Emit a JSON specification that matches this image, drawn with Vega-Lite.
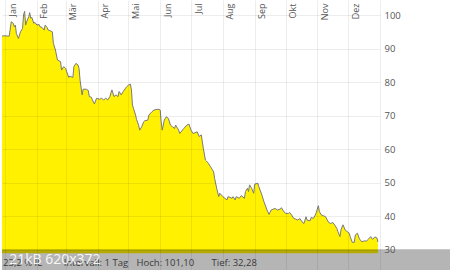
{
  "$schema": "https://vega.github.io/schema/vega-lite/v6.json",
  "width": 378,
  "height": 270,
  "padding": 0,
  "autosize": {"type": "pad"},
  "background": "white",
  "config": {"view": {"stroke": null}, "font": "Open Sans"},
  "resolve": {"axis": {"x": "independent", "y": "independent"}},
  "data": {"values": [
    {"d":"2021-12-29","v":93.7},{"d":"2021-12-31","v":93.8},{"d":"2022-01-05","v":93.7},{"d":"2022-01-07","v":98.0},
    {"d":"2022-01-09","v":97.5},{"d":"2022-01-10","v":96.5},{"d":"2022-01-11","v":97.0},{"d":"2022-01-12","v":94.5},
    {"d":"2022-01-14","v":93.0},{"d":"2022-01-16","v":95.0},{"d":"2022-01-18","v":96.0},{"d":"2022-01-19","v":100.0},
    {"d":"2022-01-20","v":101.1},{"d":"2022-01-21","v":97.0},{"d":"2022-01-22","v":98.0},{"d":"2022-01-24","v":99.5},
    {"d":"2022-01-25","v":100.7},{"d":"2022-01-26","v":99.0},{"d":"2022-01-27","v":99.3},{"d":"2022-01-29","v":97.5},
    {"d":"2022-01-30","v":97.8},{"d":"2022-02-01","v":97.0},{"d":"2022-02-03","v":97.2},{"d":"2022-02-04","v":96.5},
    {"d":"2022-02-06","v":96.3},{"d":"2022-02-08","v":95.5},{"d":"2022-02-09","v":97.0},{"d":"2022-02-11","v":96.2},
    {"d":"2022-02-12","v":95.5},{"d":"2022-02-14","v":95.3},{"d":"2022-02-16","v":95.0},{"d":"2022-02-17","v":91.6},
    {"d":"2022-02-19","v":89.6},{"d":"2022-02-21","v":86.6},{"d":"2022-02-24","v":86.1},{"d":"2022-02-25","v":83.6},
    {"d":"2022-02-27","v":84.6},{"d":"2022-03-01","v":84.1},{"d":"2022-03-02","v":83.1},{"d":"2022-03-04","v":81.4},
    {"d":"2022-03-05","v":81.8},{"d":"2022-03-08","v":81.4},{"d":"2022-03-09","v":84.6},{"d":"2022-03-11","v":85.6},
    {"d":"2022-03-13","v":85.1},{"d":"2022-03-14","v":84.1},{"d":"2022-03-15","v":80.6},{"d":"2022-03-17","v":76.2},
    {"d":"2022-03-18","v":77.9},{"d":"2022-03-21","v":77.9},{"d":"2022-03-23","v":77.5},{"d":"2022-03-24","v":75.7},
    {"d":"2022-03-26","v":75.5},{"d":"2022-03-27","v":74.7},{"d":"2022-03-29","v":73.5},{"d":"2022-03-31","v":75.2},
    {"d":"2022-04-03","v":74.9},{"d":"2022-04-05","v":75.2},{"d":"2022-04-07","v":74.7},{"d":"2022-04-09","v":75.2},
    {"d":"2022-04-11","v":74.7},{"d":"2022-04-13","v":75.7},{"d":"2022-04-15","v":77.7},{"d":"2022-04-17","v":75.7},
    {"d":"2022-04-19","v":76.2},{"d":"2022-04-21","v":75.7},{"d":"2022-04-22","v":77.2},{"d":"2022-04-24","v":76.2},
    {"d":"2022-04-26","v":77.2},{"d":"2022-04-29","v":78.5},{"d":"2022-05-01","v":79.1},{"d":"2022-05-03","v":79.4},
    {"d":"2022-05-04","v":77.7},{"d":"2022-05-05","v":73.2},{"d":"2022-05-06","v":72.2},{"d":"2022-05-08","v":70.2},
    {"d":"2022-05-09","v":68.9},{"d":"2022-05-11","v":67.2},{"d":"2022-05-12","v":65.7},{"d":"2022-05-14","v":66.7},
    {"d":"2022-05-16","v":68.2},{"d":"2022-05-17","v":68.5},{"d":"2022-05-20","v":68.7},{"d":"2022-05-21","v":70.2},
    {"d":"2022-05-24","v":71.2},{"d":"2022-05-26","v":71.7},{"d":"2022-05-29","v":71.9},{"d":"2022-05-31","v":71.9},
    {"d":"2022-06-01","v":71.7},{"d":"2022-06-02","v":68.2},{"d":"2022-06-03","v":65.7},{"d":"2022-06-05","v":68.7},
    {"d":"2022-06-07","v":69.7},{"d":"2022-06-09","v":69.2},{"d":"2022-06-11","v":67.2},{"d":"2022-06-13","v":66.7},
    {"d":"2022-06-15","v":66.2},{"d":"2022-06-16","v":67.2},{"d":"2022-06-19","v":65.7},{"d":"2022-06-20","v":64.7},
    {"d":"2022-06-24","v":66.2},{"d":"2022-06-27","v":67.2},{"d":"2022-06-29","v":67.5},{"d":"2022-07-01","v":65.7},
    {"d":"2022-07-03","v":64.7},{"d":"2022-07-07","v":65.2},{"d":"2022-07-09","v":63.8},{"d":"2022-07-11","v":64.3},
    {"d":"2022-07-13","v":60.3},{"d":"2022-07-15","v":56.8},{"d":"2022-07-16","v":56.5},{"d":"2022-07-18","v":55.8},
    {"d":"2022-07-20","v":54.8},{"d":"2022-07-23","v":53.3},{"d":"2022-07-24","v":51.3},{"d":"2022-07-26","v":48.4},
    {"d":"2022-07-28","v":45.9},{"d":"2022-07-29","v":46.9},{"d":"2022-08-01","v":45.9},{"d":"2022-08-05","v":44.9},
    {"d":"2022-08-06","v":45.9},{"d":"2022-08-10","v":45.4},{"d":"2022-08-11","v":45.9},{"d":"2022-08-13","v":44.9},
    {"d":"2022-08-14","v":45.9},{"d":"2022-08-17","v":45.4},{"d":"2022-08-19","v":46.2},{"d":"2022-08-22","v":45.4},
    {"d":"2022-08-23","v":47.4},{"d":"2022-08-25","v":48.4},{"d":"2022-08-26","v":47.4},{"d":"2022-08-27","v":49.4},
    {"d":"2022-08-29","v":48.4},{"d":"2022-08-31","v":46.9},{"d":"2022-09-01","v":49.6},{"d":"2022-09-04","v":49.9},
    {"d":"2022-09-05","v":48.9},{"d":"2022-09-08","v":46.4},{"d":"2022-09-10","v":44.4},{"d":"2022-09-13","v":41.9},
    {"d":"2022-09-15","v":40.6},{"d":"2022-09-17","v":41.9},{"d":"2022-09-21","v":42.4},{"d":"2022-09-23","v":41.9},
    {"d":"2022-09-26","v":42.2},{"d":"2022-09-27","v":42.6},{"d":"2022-09-29","v":41.6},{"d":"2022-10-01","v":40.9},
    {"d":"2022-10-04","v":40.9},{"d":"2022-10-05","v":41.2},{"d":"2022-10-07","v":40.4},{"d":"2022-10-09","v":39.4},
    {"d":"2022-10-11","v":39.2},{"d":"2022-10-13","v":38.9},{"d":"2022-10-15","v":39.4},{"d":"2022-10-17","v":38.4},
    {"d":"2022-10-19","v":37.9},{"d":"2022-10-21","v":39.9},{"d":"2022-10-22","v":38.9},{"d":"2022-10-25","v":38.7},
    {"d":"2022-10-26","v":39.7},{"d":"2022-10-28","v":39.4},{"d":"2022-10-30","v":40.4},{"d":"2022-10-31","v":41.2},
    {"d":"2022-11-02","v":43.2},{"d":"2022-11-03","v":41.4},{"d":"2022-11-05","v":40.4},{"d":"2022-11-07","v":40.2},
    {"d":"2022-11-09","v":39.9},{"d":"2022-11-12","v":38.2},{"d":"2022-11-14","v":37.9},{"d":"2022-11-16","v":38.2},
    {"d":"2022-11-18","v":37.4},{"d":"2022-11-20","v":36.4},{"d":"2022-11-21","v":35.5},{"d":"2022-11-23","v":34.0},
    {"d":"2022-11-24","v":36.0},{"d":"2022-11-26","v":37.5},{"d":"2022-11-28","v":36.0},{"d":"2022-11-30","v":35.5},
    {"d":"2022-12-02","v":35.0},{"d":"2022-12-03","v":34.0},{"d":"2022-12-05","v":32.28},{"d":"2022-12-07","v":32.3},
    {"d":"2022-12-08","v":34.5},{"d":"2022-12-10","v":35.0},{"d":"2022-12-12","v":33.3},{"d":"2022-12-14","v":32.5},
    {"d":"2022-12-17","v":32.7},{"d":"2022-12-19","v":32.7},{"d":"2022-12-21","v":33.3},{"d":"2022-12-23","v":34.0},
    {"d":"2022-12-24","v":33.4},{"d":"2022-12-25","v":33.2},{"d":"2022-12-27","v":33.9},{"d":"2022-12-29","v":33.6},
    {"d":"2022-12-30","v":32.4}
  ]},
  "layer": [
    {
      "mark": {"type": "area", "color": "#fff100", "opacity": 1, "line": {"color": "#7a7a7a", "strokeWidth": 1}},
      "encoding": {
        "x": {
          "field": "d", "type": "temporal",
          "scale": {"type": "utc", "domain": [{"year": 2021, "month": 12, "date": 29, "utc": true}, {"year": 2023, "month": 1, "date": 1, "utc": true}]},
          "axis": {
            "orient": "top", "title": null, "domain": false, "ticks": false, "tickSize": 0,
            "values": [
              {"year": 2022, "month": 1, "date": 1, "utc": true}, {"year": 2022, "month": 2, "date": 1, "utc": true},
              {"year": 2022, "month": 3, "date": 1, "utc": true}, {"year": 2022, "month": 4, "date": 1, "utc": true},
              {"year": 2022, "month": 5, "date": 1, "utc": true}, {"year": 2022, "month": 6, "date": 1, "utc": true},
              {"year": 2022, "month": 7, "date": 1, "utc": true}, {"year": 2022, "month": 8, "date": 1, "utc": true},
              {"year": 2022, "month": 9, "date": 1, "utc": true}, {"year": 2022, "month": 10, "date": 1, "utc": true},
              {"year": 2022, "month": 11, "date": 1, "utc": true}, {"year": 2022, "month": 12, "date": 1, "utc": true},
              {"year": 2023, "month": 1, "date": 1, "utc": true}
            ],
            "labelExpr": "utcyear(datum.value) > 2022 ? '' : ['Jan','Feb','Mär','Apr','Mai','Jun','Jul','Aug','Sep','Okt','Nov','Dez'][utcmonth(datum.value)]",
            "labelAngle": -90, "labelAlign": "right", "labelBaseline": "middle",
            "labelPadding": -3, "labelOffset": 7, "labelFlush": false, "labelOverlap": false, "labelBound": false,
            "labelFontSize": 9, "labelColor": "#555555", "labelFont": "Open Sans",
            "grid": true, "gridColor": "#000000", "gridOpacity": 0.07, "zindex": 1
          }
        },
        "y": {
          "field": "v", "type": "quantitative",
          "scale": {"domain": [24.04, 104.47], "zero": false, "nice": false},
          "axis": {
            "orient": "right", "title": null, "domain": false, "ticks": false, "tickSize": 0,
            "values": [30, 40, 50, 60, 70, 80, 90, 100],
            "labelPadding": 4, "labelFontSize": 9.5, "labelColor": "#555555", "labelFont": "Open Sans",
            "labelBaseline": "middle", "labelOverlap": false, "labelFlush": false, "labelBound": false,
            "grid": true, "gridColor": "#000000", "gridOpacity": 0.07, "zindex": 1
          }
        },
        "y2": {"datum": 29.0}
      }
    },
    {
      "data": {"values": [{"k": "footer"}]},
      "mark": {"type": "rect", "color": "#000000", "opacity": 0.29, "clip": false},
      "encoding": {
        "x": {"datum": {"year": 2021, "month": 12, "date": 29, "utc": true}, "type": "temporal", "axis": null},
        "x2": {"datum": {"year": 2023, "month": 3, "date": 12, "utc": true}},
        "y": {"datum": 30.2, "type": "quantitative", "axis": null},
        "y2": {"datum": 24.04}
      }
    },
    {
      "data": {"values": [{"t": "23,2 % IL"}]},
      "mark": {"type": "text", "align": "left", "baseline": "alphabetic", "fontSize": 9.5, "color": "#3a3a3a", "font": "Open Sans"},
      "encoding": {
        "x": {"datum": {"year": 2021, "month": 12, "date": 30, "utc": true}, "type": "temporal", "axis": null},
        "y": {"datum": 25.1, "type": "quantitative", "axis": null},
        "text": {"field": "t"}
      }
    },
    {
      "data": {"values": [{"t": "Intervall: 1 Tag"}]},
      "mark": {"type": "text", "align": "left", "baseline": "alphabetic", "fontSize": 9.5, "color": "#3a3a3a", "font": "Open Sans"},
      "encoding": {
        "x": {"datum": {"year": 2022, "month": 2, "date": 27, "utc": true}, "type": "temporal", "axis": null},
        "y": {"datum": 25.1, "type": "quantitative", "axis": null},
        "text": {"field": "t"}
      }
    },
    {
      "data": {"values": [{"t": "Hoch:  101,10"}]},
      "mark": {"type": "text", "align": "left", "baseline": "alphabetic", "fontSize": 9.5, "color": "#3a3a3a", "font": "Open Sans"},
      "encoding": {
        "x": {"datum": {"year": 2022, "month": 5, "date": 9, "utc": true}, "type": "temporal", "axis": null},
        "y": {"datum": 25.1, "type": "quantitative", "axis": null},
        "text": {"field": "t"}
      }
    },
    {
      "data": {"values": [{"t": "Tief:  32,28"}]},
      "mark": {"type": "text", "align": "left", "baseline": "alphabetic", "fontSize": 9.5, "color": "#3a3a3a", "font": "Open Sans"},
      "encoding": {
        "x": {"datum": {"year": 2022, "month": 7, "date": 21, "utc": true}, "type": "temporal", "axis": null},
        "y": {"datum": 25.1, "type": "quantitative", "axis": null},
        "text": {"field": "t"}
      }
    },
    {
      "data": {"values": [{"t": "21kB 620x372"}]},
      "mark": {"type": "text", "align": "left", "baseline": "alphabetic", "fontSize": 14, "color": "#ffffff", "opacity": 0.9, "font": "Open Sans"},
      "encoding": {
        "x": {"datum": {"year": 2022, "month": 1, "date": 5, "utc": true}, "type": "temporal", "axis": null},
        "y": {"datum": 25.8, "type": "quantitative", "axis": null},
        "text": {"field": "t"}
      }
    }
  ]
}
